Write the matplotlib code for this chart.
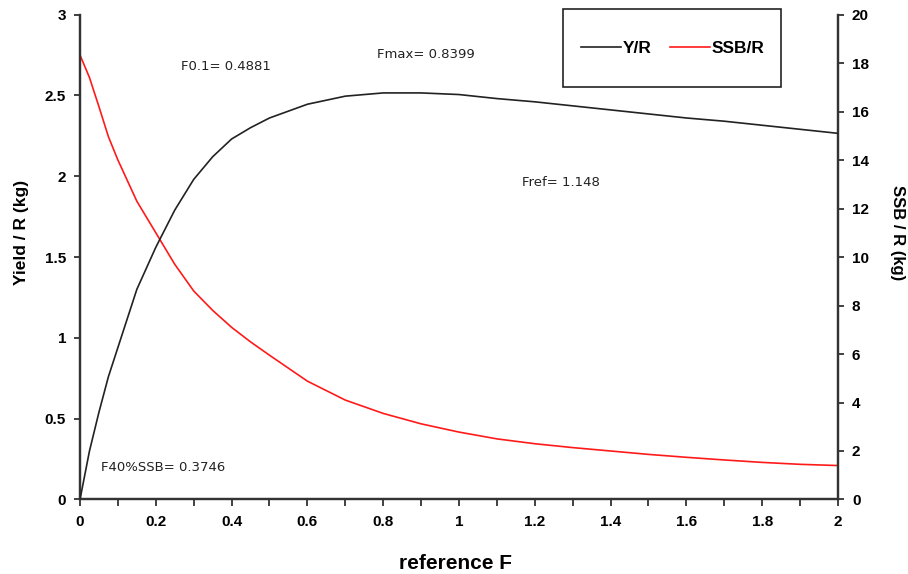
import matplotlib.pyplot as plt
from matplotlib.lines import Line2D
from matplotlib.patches import Rectangle
import numpy as np

# fishing mortality grid and per-recruit curves
f_ref = [0, 0.025, 0.05, 0.075, 0.1, 0.15, 0.2, 0.25, 0.3, 0.35, 0.4, 0.45, 0.5,
         0.6, 0.7, 0.8, 0.9, 1.0, 1.1, 1.2, 1.3, 1.4, 1.5, 1.6, 1.7, 1.8, 1.9, 2.0]
yield_r = [0, 0.30, 0.54, 0.76, 0.94, 1.30, 1.56, 1.79, 1.98, 2.12, 2.23, 2.30, 2.36,
           2.445, 2.495, 2.515, 2.515, 2.505, 2.48, 2.46, 2.435, 2.41, 2.385, 2.36,
           2.34, 2.315, 2.29, 2.265]
ssb_r = [18.33, 17.4, 16.2, 14.96, 14.0, 12.3, 11.0, 9.7, 8.6, 7.8, 7.1, 6.5, 5.95,
         4.88, 4.1, 3.55, 3.12, 2.78, 2.5, 2.3, 2.14, 2.0, 1.86, 1.74, 1.63, 1.53,
         1.45, 1.40]

# reference points written on the plot
ref_labels = ["F0.1= 0.4881", "Fmax= 0.8399", "Fref= 1.148", "F40%SSB= 0.3746"]
ref_pos = [(0.266, 2.68), (0.784, 2.75), (1.166, 1.96), (0.055, 0.195)]

plt.rcParams['font.family'] = ['Liberation Sans', 'DejaVu Sans']
axis_col = '#333333'

fig = plt.figure(figsize=(9.08, 5.74), dpi=100)
ax = fig.add_axes([0.0881, 0.1298, 0.8348, 0.8449])
ax2 = ax.twinx()

ax.plot(f_ref, yield_r, color='#222222', lw=1.2, zorder=3)
ax2.plot(f_ref, ssb_r, color='#ff1a1a', lw=1.2)
ax.set_zorder(ax2.get_zorder() + 1)
ax.patch.set_visible(False)

ax.set_xlim(0, 2)
ax.set_ylim(0, 3)
ax2.set_ylim(0, 20)
ax.set_xticks(np.arange(0, 2.01, 0.2))
ax.set_xticks(np.arange(0, 2.01, 0.1), minor=True)
ax.set_xticklabels(['0', '0.2', '0.4', '0.6', '0.8', '1', '1.2', '1.4', '1.6', '1.8', '2'])
ax.set_yticks(np.arange(0, 3.01, 0.5))
ax.set_yticklabels(['0', '0.5', '1', '1.5', '2', '2.5', '3'])
ax2.set_yticks(np.arange(0, 21, 2))

for a in (ax, ax2):
    a.spines['top'].set_visible(False)
    for s in a.spines.values():
        s.set_color(axis_col)
        s.set_linewidth(1.6)
    a.tick_params(which='both', direction='out', color=axis_col, width=1.3,
                  labelsize=11, pad=6)
    for lab in a.get_xticklabels() + a.get_yticklabels():
        lab.set_fontweight('bold')
ax.tick_params(axis='x', which='both', length=5)
ax.tick_params(axis='y', length=4)
ax2.tick_params(axis='y', length=4)

ax.set_xlabel('reference F', fontsize=15, fontweight='bold', va='center')
ax.xaxis.set_label_coords(0.496, -0.131)
ax.set_ylabel('Yield / R (kg)', fontsize=12.5, fontweight='bold', va='center')
ax.yaxis.set_label_coords(-0.077, 0.55)
ax2.set_ylabel('SSB / R (kg)', fontsize=12, fontweight='bold', rotation=-90, va='center')
ax2.yaxis.set_label_coords(1.079, 0.55)

for txt, (x, y) in zip(ref_labels, ref_pos):
    ax.text(x, y, txt, fontsize=9.5, color='#222222', ha='left', va='center',
            family=['DejaVu Sans'])

# legend with its own box
fig.patches.append(Rectangle((0.620, 0.8484), 0.240, 0.136, transform=fig.transFigure,
                             fill=False, edgecolor='#222222', lw=1.2))
handles = [Line2D([], [], color='#222222', lw=1.2), Line2D([], [], color='#ff1a1a', lw=1.2)]
leg = fig.legend(handles, ['Y/R', 'SSB/R'], loc='center', bbox_to_anchor=(0.741, 0.916),
                 ncol=2, frameon=False, handlelength=2.3, handletextpad=0.1,
                 columnspacing=1.1, prop={'size': 12.5, 'weight': 'bold'})

fig.savefig('out.png', dpi=100)
